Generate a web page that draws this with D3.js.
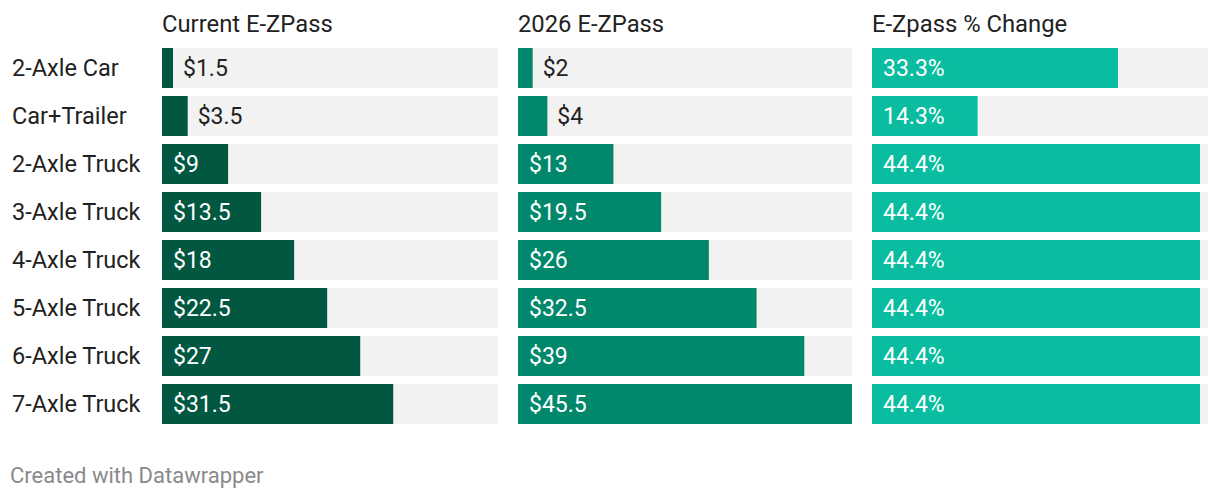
<!DOCTYPE html>
<html><head><meta charset="utf-8">
<script src="https://cdn.jsdelivr.net/npm/d3@7"></script>
<style>body{margin:0;background:#fff;font-family:Roboto,sans-serif;}</style>
</head><body><svg id="c" width="1220" height="500"></svg>
<script>
const categories = ["2-Axle Car","Car+Trailer","2-Axle Truck","3-Axle Truck","4-Axle Truck","5-Axle Truck","6-Axle Truck","7-Axle Truck"];
const currentEZPass = [1.5,3.5,9,13.5,18,22.5,27,31.5];
const ezpass2026 = [2,4,13,19.5,26,32.5,39,45.5];
const pctChange = [33.3,14.3,44.4,44.4,44.4,44.4,44.4,44.4];
const headers = ["Current E-ZPass","2026 E-ZPass","E-Zpass % Change"];

const svg = d3.select("#c");
const y = d3.scaleBand().domain(categories).range([44,428]).paddingInner(0.1667).paddingOuter(0.0833);
const cols = [
  {x0:162, bgW:336, data:currentEZPass, max:45.5, w:334, color:"#01573f", fmt:v=>"$"+v},
  {x0:518, bgW:334, data:ezpass2026, max:45.5, w:334, color:"#00876c", fmt:v=>"$"+v},
  {x0:872, bgW:336, data:pctChange, max:44.4, w:328, color:"#0abda0", fmt:v=>v.toFixed(1)+"%"}
];
svg.selectAll("text.rl").data(categories).enter().append("text")
  .attr("x",12).attr("y",d=>y(d)+y.bandwidth()/2).attr("dy","0.36em")
  .attr("font-size",23.5).attr("fill","#222").text(d=>d);
cols.forEach((c,i)=>{
  const x = d3.scaleLinear().domain([0,c.max]).range([c.x0,c.x0+c.w]);
  const g = svg.append("g");
  g.append("text").attr("x",c.x0).attr("y",32).attr("font-size",23.8).attr("fill","#222").text(headers[i]);
  categories.forEach((cat,j)=>{
    const v=c.data[j];
    g.append("rect").attr("x",c.x0).attr("y",y(cat)).attr("width",c.bgW).attr("height",y.bandwidth()).attr("fill","#f2f2f2");
    g.append("rect").attr("x",x(0)).attr("y",y(cat)).attr("width",x(v)-x(0)).attr("height",y.bandwidth()).attr("fill",c.color);
    const inside = (x(v)-x(0))>60;
    g.append("text").attr("x",inside? x(0)+11 : x(v)+10)
      .attr("y",y(cat)+y.bandwidth()/2).attr("dy","0.36em").attr("font-size",23)
      .attr("fill",inside?"#fff":"#222").text(c.fmt(v));
  });
});
svg.append("text").attr("x",10).attr("y",483).attr("font-size",22).attr("fill","#8a8a8a").text("Created with Datawrapper");
</script></body></html>
